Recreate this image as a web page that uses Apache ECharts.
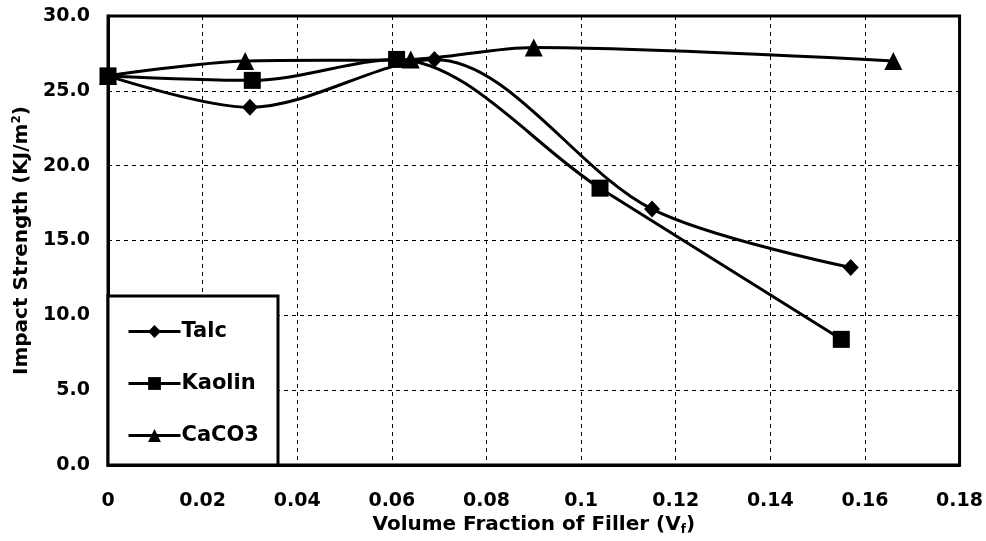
<!DOCTYPE html>
<html>
<head>
<meta charset="utf-8">
<script src="https://cdn.jsdelivr.net/npm/echarts@6/dist/echarts.min.js"></script>
<style>html,body{margin:0;padding:0;background:#fff}#c{width:986px;height:541px}</style>
</head>
<body>
<div id="c"></div>
<script>
const talcX = [0, 0.03, 0.069, 0.115, 0.157];
const talcY = [26.0, 23.9, 27.1, 17.1, 13.2];
const kaolinX = [0, 0.0305, 0.061, 0.104, 0.155];
const kaolinY = [26.0, 25.7, 27.1, 18.5, 8.4];
const caco3X = [0, 0.029, 0.064, 0.09, 0.166];
const caco3Y = [26.0, 27.0, 27.1, 27.9, 27.0];
const seriesNames = ['Talc', 'Kaolin', 'CaCO3'];
const xTicks = [0, 0.02, 0.04, 0.06, 0.08, 0.1, 0.12, 0.14, 0.16, 0.18];

const pair = (xs, ys) => xs.map((x, i) => [x, ys[i]]);
const font = '"DejaVu Sans", Verdana, sans-serif';
const chart = echarts.init(document.getElementById('c'));
const mk = (name, data, symbol, size) => ({
  name, type: 'line', data, smooth: 0.32,
  symbol, symbolSize: size,
  lineStyle: { color: '#000', width: 3 },
  itemStyle: { color: '#000' },
  z: 2
});
chart.setOption({
  animation: false,
  backgroundColor: '#fff',
  grid: { left: 108, right: 24, top: 16, bottom: 75, show: true, borderColor: '#000', borderWidth: 3 },
  xAxis: {
    type: 'value', min: 0, max: 0.18, interval: 0.02,
    name: 'Volume Fraction of Filler (V{sub|f})',
    nameLocation: 'middle', nameGap: 46,
    nameTextStyle: { fontFamily: font, fontWeight: 'bold', fontSize: 20, color: '#000',
      rich: { sub: { fontFamily: font, fontWeight: 'bold', fontSize: 12, color: '#000', padding: [10, 0, 0, 0] } } },
    axisLine: { lineStyle: { color: '#000', width: 3 } },
    axisTick: { show: false },
    axisLabel: { fontFamily: font, fontWeight: 'bold', fontSize: 19, color: '#000', margin: 26,
      formatter: v => { const t = xTicks.find(k => Math.abs(k - v) < 1e-9); return String(t !== undefined ? t : +v.toFixed(2)); } },
    splitLine: { show: true, lineStyle: { color: '#000', type: [4, 4], width: 1 } }
  },
  yAxis: {
    type: 'value', min: 0, max: 30, interval: 5,
    name: 'Impact Strength (KJ/m{sup|2})',
    nameLocation: 'middle', nameGap: 65,
    nameTextStyle: { fontFamily: font, fontWeight: 'bold', fontSize: 20, color: '#000',
      rich: { sup: { fontFamily: font, fontWeight: 'bold', fontSize: 12, color: '#000', padding: [0, 0, 11, 0] } } },
    axisLine: { show: true, lineStyle: { color: '#000', width: 3 } },
    axisTick: { show: false },
    axisLabel: { fontFamily: font, fontWeight: 'bold', fontSize: 19, color: '#000', margin: 18,
      formatter: v => v.toFixed(1) },
    splitLine: { show: true, lineStyle: { color: '#000', type: [4, 4], width: 1 } }
  },
  graphic: [{
    type: 'rect', z: 3, shape: { x: 108, y: 296, width: 170, height: 169 },
    style: { fill: '#fff', stroke: '#000', lineWidth: 3 }
  }],
  legend: {
    orient: 'vertical', left: 122, top: 316, z: 5,
    itemWidth: 52, itemHeight: 16, itemGap: 31,
    data: seriesNames,
    lineStyle: { width: 3 },
    textStyle: { fontFamily: font, fontWeight: 'bold', fontSize: 21, color: '#000', padding: [0, 0, 0, -4] }
  },
  series: [
    mk(seriesNames[0], pair(talcX, talcY), 'diamond', [16, 17]),
    mk(seriesNames[1], pair(kaolinX, kaolinY), 'rect', 17),
    mk(seriesNames[2], pair(caco3X, caco3Y), 'triangle', 18)
  ]
});
</script>
</body>
</html>
